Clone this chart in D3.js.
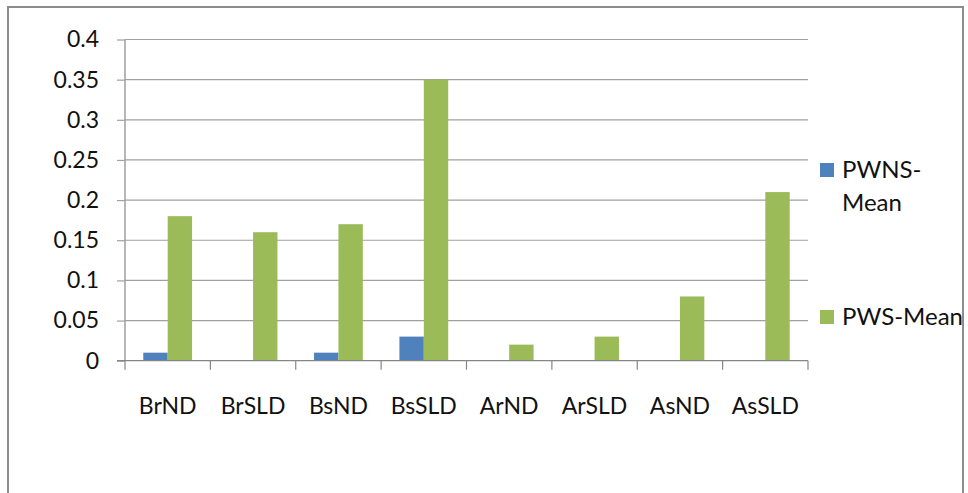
<!DOCTYPE html>
<html>
<head>
<meta charset="utf-8">
<script src="https://cdn.jsdelivr.net/npm/d3@7"></script>
<style>
  html, body { margin: 0; padding: 0; background: #fff; }
  svg { display: block; font-family: Lato, "Liberation Sans", sans-serif; }
</style>
</head>
<body>
<svg id="chart" width="968" height="493"></svg>
<script>
// Categories and series values
const categories = ["BrND", "BrSLD", "BsND", "BsSLD", "ArND", "ArSLD", "AsND", "AsSLD"];
const pwnsMean = [0.01, 0, 0.01, 0.03, 0, 0, 0, 0];
const pwsMean  = [0.18, 0.16, 0.17, 0.35, 0.02, 0.03, 0.08, 0.21];
const seriesNames = ["PWNS-Mean", "PWS-Mean"];
const seriesColors = ["#4F81BD", "#9BBB59"];
const yTicks = [0, 0.05, 0.1, 0.15, 0.2, 0.25, 0.3, 0.35, 0.4];
const yTickLabels = ["0", "0.05", "0.1", "0.15", "0.2", "0.25", "0.3", "0.35", "0.4"];

const svg = d3.select("#chart");

// Outer chart frame
svg.append("rect")
  .attr("x", 8).attr("y", 7)
  .attr("width", 955).attr("height", 500)
  .attr("fill", "#fff")
  .attr("stroke", "#8c8c8c")
  .attr("stroke-width", 2);

const plot = { left: 125, right: 808, top: 39.5, bottom: 360.7 };

const x = d3.scaleBand()
  .domain(categories)
  .range([plot.left, plot.right])
  .paddingInner(0).paddingOuter(0);

const y = d3.scaleLinear()
  .domain([0, 0.4])
  .range([plot.bottom, plot.top]);

// Grouped bars: two bars per band, 150% gap width
const barW = x.bandwidth() / 3.5;
const xs = d3.scaleBand()
  .domain([0, 1])
  .range([0, barW * 2]);

// Value axis: ticks extend left of the axis line
const yAxis = d3.axisLeft(y)
  .tickValues(yTicks)
  .tickFormat((d, i) => yTickLabels[i])
  .tickSize(8)
  .tickPadding(18);

const yg = svg.append("g")
  .attr("transform", `translate(${plot.left},0)`)
  .call(yAxis);
yg.select(".domain").attr("stroke", "#868686").attr("stroke-width", 1.2)
  .attr("d", `M0,${plot.top}V${plot.bottom}`);
yg.selectAll(".tick line").attr("stroke", "#a0a0a0").attr("stroke-width", 1.2);
yg.selectAll(".tick text")
  .attr("fill", "#111")
  .style("font-size", "23px")
  .style("font-family", "Lato, 'Liberation Sans', sans-serif");

// Horizontal gridlines
svg.append("g")
  .selectAll("line")
  .data(yTicks.filter(v => v > 0))
  .join("line")
  .attr("x1", plot.left).attr("x2", plot.right)
  .attr("y1", d => y(d)).attr("y2", d => y(d))
  .attr("stroke", "#a0a0a0")
  .attr("stroke-width", 1.2);

// Bars
const bars = svg.append("g");
categories.forEach((c, i) => {
  const vals = [pwnsMean[i], pwsMean[i]];
  const x0 = x(c) + (x.bandwidth() - barW * 2) / 2;
  vals.forEach((v, s) => {
    if (v <= 0) return;
    bars.append("rect")
      .attr("x", x0 + xs(s))
      .attr("y", y(v))
      .attr("width", xs.bandwidth())
      .attr("height", y(0) - y(v))
      .attr("fill", seriesColors[s]);
  });
});

// Category axis with ticks at band boundaries
const xg = svg.append("g")
  .attr("transform", `translate(0,${plot.bottom})`);
xg.append("line")
  .attr("x1", plot.left - 8).attr("x2", plot.right)
  .attr("y1", 0).attr("y2", 0)
  .attr("stroke", "#868686").attr("stroke-width", 1.2);
xg.selectAll("line.tk")
  .data(categories.map(c => x(c)).concat([plot.right]))
  .join("line")
  .attr("class", "tk")
  .attr("x1", d => d).attr("x2", d => d)
  .attr("y1", 0).attr("y2", 9)
  .attr("stroke", "#868686").attr("stroke-width", 1.2);
xg.selectAll("text")
  .data(categories)
  .join("text")
  .attr("x", d => x(d) + x.bandwidth() / 2)
  .attr("y", 53)
  .attr("text-anchor", "middle")
  .style("font-size", "23px")
  .attr("fill", "#111")
  .text(d => d);

// Legend
const legend = svg.append("g");
const legendItems = [
  { lines: ["PWNS-", "Mean"], y: 178 },
  { lines: ["PWS-Mean"], y: 325 }
];
legendItems.forEach((item, i) => {
  legend.append("rect")
    .attr("x", 820).attr("y", item.y - 15)
    .attr("width", 14).attr("height", 14)
    .attr("fill", seriesColors[i]);
  const t = legend.append("text")
    .attr("x", 842).attr("y", item.y)
    .style("font-size", "24px")
    .attr("fill", "#111");
  item.lines.forEach((ln, k) => {
    t.append("tspan").attr("x", 842).attr("dy", k === 0 ? 0 : 33).text(ln);
  });
});
</script>
</body>
</html>
